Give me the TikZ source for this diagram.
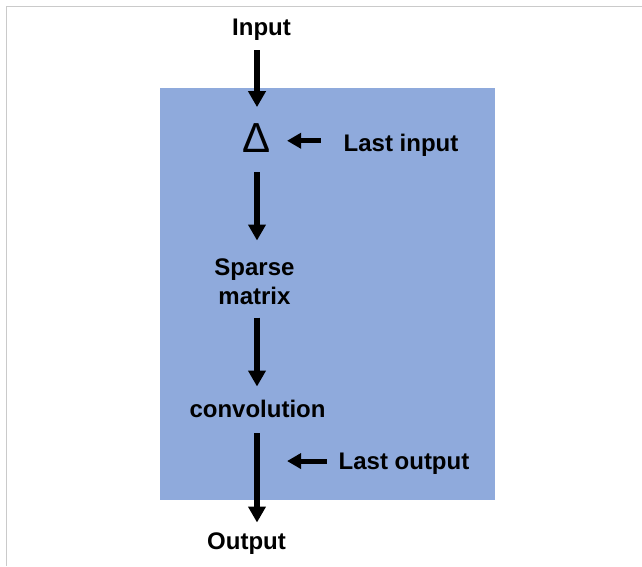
\documentclass[tikz,border=0pt]{standalone}
\usepackage{fontspec}
\setmainfont{Liberation Sans}
\usetikzlibrary{arrows.meta}
\definecolor{panelblue}{HTML}{8FAADC}
\definecolor{framegray}{HTML}{CACACA}
\tikzset{
  lbl/.style={inner sep=0pt, outer sep=0pt, font=\fontsize{24}{29}\selectfont\bfseries, text height=17.5pt, text depth=5pt},
  varrow/.style={line width=5.5pt, -{Triangle[length=16pt,width=17pt]}},
  harrow/.style={line width=5pt, -{Triangle[length=14pt,width=15pt]}},
}
\begin{document}
\begin{tikzpicture}[x=1pt,y=-1pt]
\useasboundingbox (0,0) rectangle (642,566);
% frame lines
\draw[framegray, line width=1.2pt] (6.5,566) -- (6.5,6.5) -- (642,6.5);
% panel
\fill[panelblue] (160,88) rectangle (495,500);
% nodes
\node[lbl, anchor=base] (input) at (261.5,35) {Input};
\node[inner sep=0pt, outer sep=0pt, anchor=base, font=\fontsize{42}{42}\selectfont] (delta) at (257,152) {Δ};
\node[lbl, anchor=base] (lastin) at (401,151) {Last input};
\node[lbl, align=center, text height=, text depth=, anchor=north] (sparse) at (254.5,258.5) {Sparse\\matrix};
\node[lbl, anchor=base] (conv) at (257.5,417) {convolution};
\node[lbl, anchor=base] (lastout) at (404,469.3) {Last output};
\node[lbl, anchor=base] (output) at (246.5,549) {Output};
% vertical connectors
\draw[varrow, shorten <=10pt, shorten >=16pt] (delta |- input.south) -- (delta.north);
\draw[varrow, shorten <=20pt, shorten >=18pt] (delta.south) -- (delta |- sparse.north);
\draw[varrow, shorten <=13pt, shorten >=13pt] (delta |- sparse.south) -- (delta |- conv.north);
\draw[varrow, shorten <=11pt, shorten >=9pt] (delta |- conv.south) -- (delta |- output.north);
% horizontal connectors
\draw[harrow, shorten <=23pt, shorten >=16pt] ([yshift=4pt]lastin.west) -- ([yshift=4pt]lastin.west -| delta.east);
\draw[harrow, shorten <=12pt, shorten >=16pt] ([yshift=2pt]lastout.west) -- ([yshift=2pt]lastout.west -| delta.east);
\end{tikzpicture}
\end{document}
